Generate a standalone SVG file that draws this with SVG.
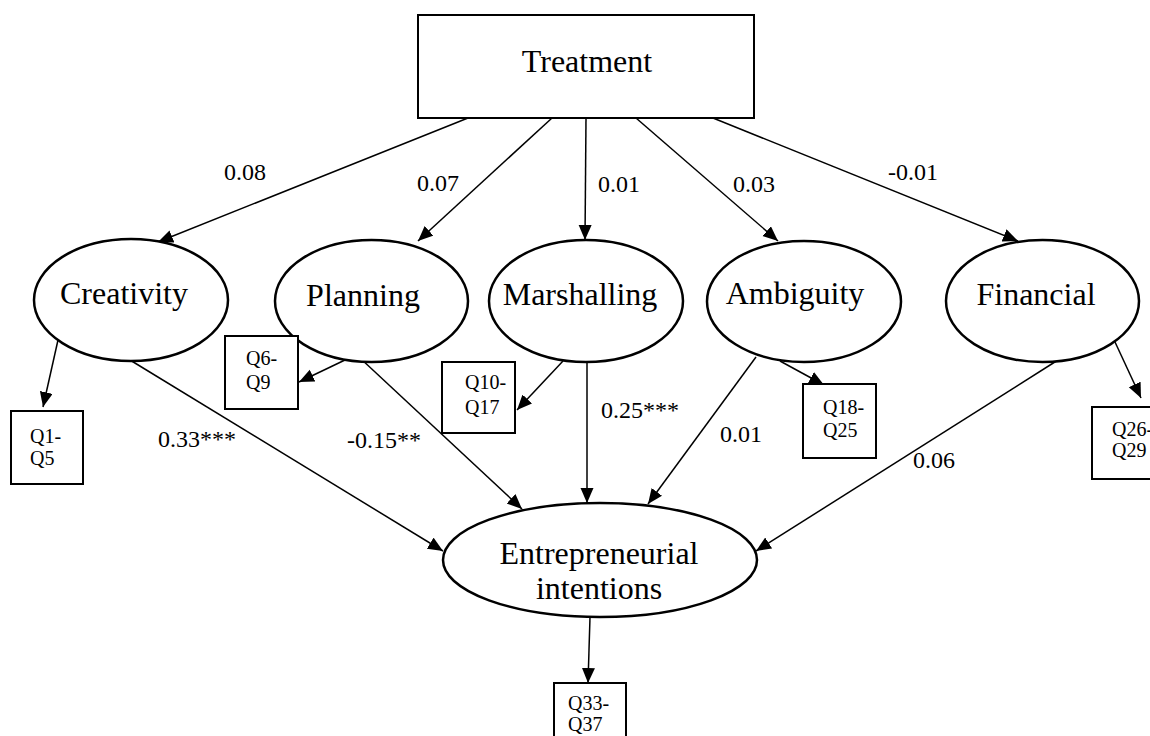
<svg xmlns="http://www.w3.org/2000/svg" width="1150" height="736" viewBox="0 0 1150 736">
<style>
.bg{fill:#fff}
.lat{fill:#fff;stroke:#000;stroke-width:2.5}
.box{fill:#fff;stroke:#000;stroke-width:2}
.big{font-family:"Liberation Serif","Times New Roman",serif;font-size:32px;fill:#000}
.q{font-family:"Liberation Serif","Times New Roman",serif;font-size:20px;fill:#000}
.lbl{font-family:"Liberation Serif","Times New Roman",serif;font-size:24px;fill:#000}
.c{stroke:#000;stroke-width:1.5;fill:none;marker-end:url(#ah)}
</style>
<defs>
<marker id="ah" markerUnits="userSpaceOnUse" markerWidth="16" markerHeight="14" refX="15" refY="6.5" orient="auto">
<path d="M0,0 L15,6.5 L0,13 z" fill="#000"/>
</marker>
</defs>
<rect class="bg" x="0" y="0" width="1150" height="736"/>

<g id="connectors">
<line class="c" x1="468" y1="118" x2="158" y2="242"/>
<line class="c" x1="552" y1="118" x2="418" y2="241"/>
<line class="c" x1="586" y1="118" x2="585" y2="240"/>
<line class="c" x1="636" y1="118" x2="778" y2="241"/>
<line class="c" x1="713" y1="118" x2="1018" y2="241"/>
<line class="c" x1="58" y1="340" x2="43" y2="407"/>
<line class="c" x1="345" y1="360" x2="299" y2="382"/>
<line class="c" x1="563" y1="361" x2="517" y2="410"/>
<line class="c" x1="780" y1="361" x2="824" y2="385"/>
<line class="c" x1="1115" y1="342" x2="1141" y2="398"/>
<line class="c" x1="130" y1="360" x2="443" y2="551"/>
<line class="c" x1="360" y1="358" x2="522" y2="509"/>
<line class="c" x1="587" y1="362" x2="587" y2="503"/>
<line class="c" x1="756" y1="357" x2="648" y2="504"/>
<line class="c" x1="1058" y1="360" x2="756" y2="551"/>
<line class="c" x1="590" y1="617" x2="588" y2="683"/>
</g>

<g id="labels">
<text class="lbl" x="224" y="180">0.08</text>
<text class="lbl" x="417" y="191">0.07</text>
<text class="lbl" x="598" y="192">0.01</text>
<text class="lbl" x="733" y="192">0.03</text>
<text class="lbl" x="888" y="180">-0.01</text>
<text class="lbl" x="158" y="447">0.33***</text>
<text class="lbl" x="347" y="448">-0.15**</text>
<text class="lbl" x="601" y="418">0.25***</text>
<text class="lbl" x="720" y="442">0.01</text>
<text class="lbl" x="913" y="468">0.06</text>
</g>

<g id="treatment">
<rect class="box" x="418" y="15" width="336" height="103"/>
<text class="big" x="587" y="72" text-anchor="middle">Treatment</text>
</g>

<g id="creativity">
<ellipse class="lat" cx="131" cy="300" rx="97" ry="61"/>
<text class="big" x="124" y="304" text-anchor="middle">Creativity</text>
</g>
<g id="planning">
<ellipse class="lat" cx="371.5" cy="301" rx="96.5" ry="61"/>
<text class="big" x="363" y="306" text-anchor="middle">Planning</text>
</g>
<g id="marshalling">
<ellipse class="lat" cx="586" cy="301" rx="97" ry="61"/>
<text class="big" x="580" y="305" text-anchor="middle">Marshalling</text>
</g>
<g id="ambiguity">
<ellipse class="lat" cx="804" cy="301.5" rx="97" ry="60.5"/>
<text class="big" x="795" y="304" text-anchor="middle">Ambiguity</text>
</g>
<g id="financial">
<ellipse class="lat" cx="1042.5" cy="301" rx="96.5" ry="61"/>
<text class="big" x="1036" y="305" text-anchor="middle">Financial</text>
</g>
<g id="intentions">
<ellipse class="lat" cx="600" cy="560" rx="157" ry="57"/>
<text class="big" x="599" y="564" text-anchor="middle">Entrepreneurial</text>
<text class="big" x="599" y="599" text-anchor="middle">intentions</text>
</g>

<g id="q1">
<rect class="box" x="11" y="411" width="72" height="73"/>
<text class="q" x="30" y="443">Q1-</text>
<text class="q" x="30" y="465">Q5</text>
</g>
<g id="q6">
<rect class="box" x="225" y="336" width="73" height="73"/>
<text class="q" x="246" y="365">Q6-</text>
<text class="q" x="246" y="389">Q9</text>
</g>
<g id="q10">
<rect class="box" x="442" y="362" width="73" height="71"/>
<text class="q" x="465" y="389">Q10-</text>
<text class="q" x="465" y="414">Q17</text>
</g>
<g id="q18">
<rect class="box" x="803" y="384" width="73" height="74"/>
<text class="q" x="823" y="414">Q18-</text>
<text class="q" x="823" y="437">Q25</text>
</g>
<g id="q26">
<rect class="box" x="1092" y="407" width="73" height="72"/>
<text class="q" x="1112" y="436">Q26-</text>
<text class="q" x="1112" y="457">Q29</text>
</g>
<g id="q33">
<rect class="box" x="554" y="683" width="72" height="73"/>
<text class="q" x="568" y="710">Q33-</text>
<text class="q" x="568" y="731">Q37</text>
</g>
</svg>
